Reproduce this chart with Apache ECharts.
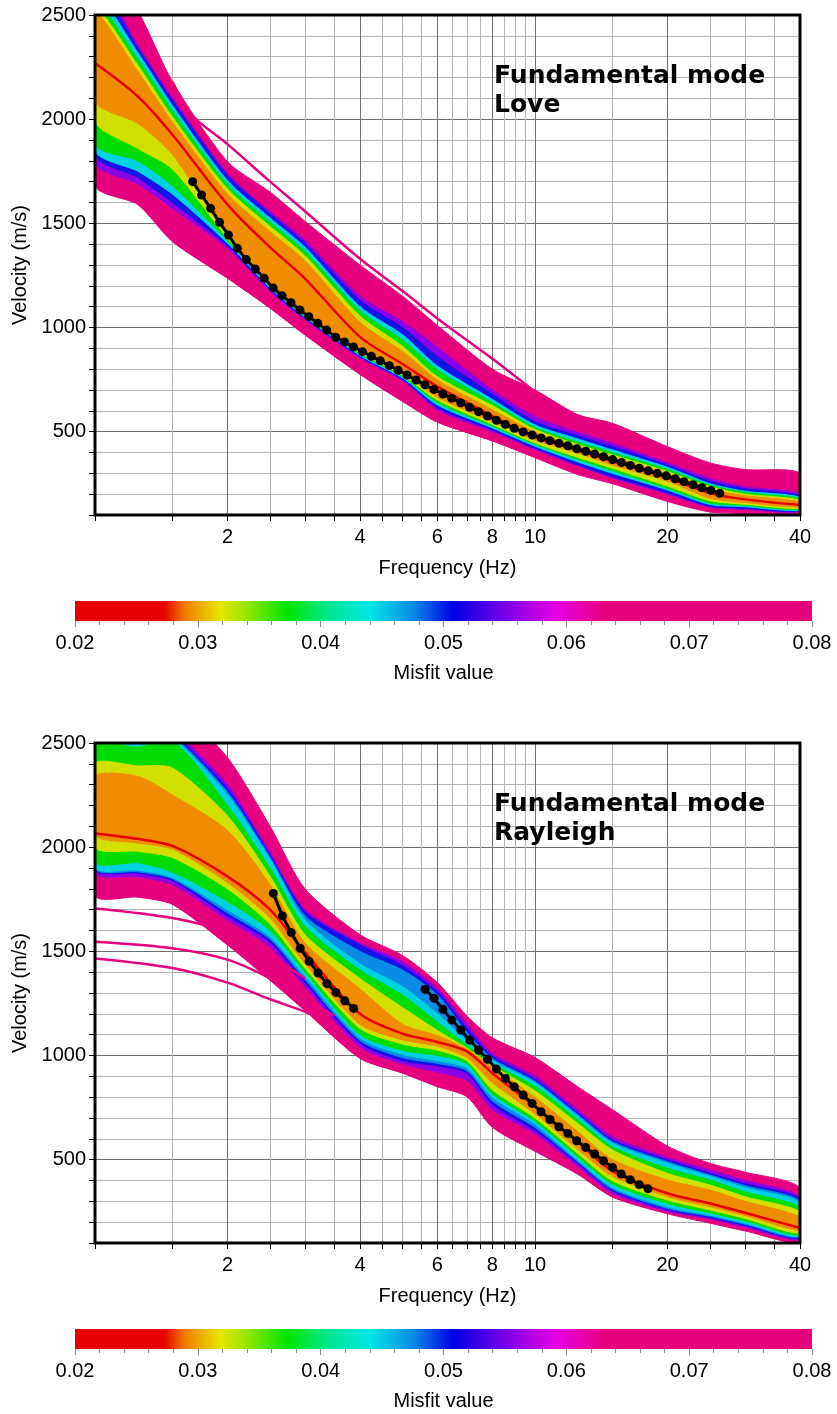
<!DOCTYPE html>
<html><head><meta charset="utf-8">
<script src="https://cdn.jsdelivr.net/npm/echarts@6/dist/echarts.min.js"></script>
<style>html,body{margin:0;padding:0;background:#fff}#c{width:837px;height:1414px}</style>
</head><body><div id="c"></div>
<script>
// ---------- axis ticks / labels ----------
const freqTicks = [1,1.5,2,2.5,3,3.5,4,4.5,5,5.5,6,6.5,7,7.5,8,8.5,9,9.5,10,15,20,25,30,35,40];
const freqLabels = [2,4,6,8,10,20,40];
const freqMajorLines = [2,4,6,8,10,20];
const velocityLabels = [500,1000,1500,2000,2500];
const misfitRange = [0.02, 0.08];

// ---------- Love (top) ensemble envelopes ----------
const loveFreq     = [1, 1.25, 1.5, 2, 2.5, 3, 4, 5, 6, 8, 10, 12.5, 15, 20, 25, 30, 40];
const lovePinkUp   = [2800, 2520, 2180, 1796, 1650, 1510, 1300, 1150, 1010, 800, 700, 582, 540, 428, 350, 318, 300];
const lovePurpleUp = [2700, 2355, 2100, 1740, 1556, 1420, 1150, 1028, 905, 700, 572, 497, 444, 350, 275, 235, 202];
const loveBlueUp   = [2650, 2345, 2090, 1730, 1545, 1405, 1130, 1000, 860, 680, 548, 481, 428, 340, 262, 226, 192];
const loveCyanUp   = [2600, 2320, 2065, 1705, 1525, 1385, 1100, 965, 815, 655, 532, 465, 412, 329, 250, 214, 185];
const loveGreenUp  = [2560, 2290, 2040, 1685, 1505, 1365, 1080, 940, 796, 640, 520, 450, 399, 319, 243, 208, 178];
const loveYellowUp = [2530, 2260, 2010, 1665, 1485, 1345, 1055, 910, 764, 625, 510, 438, 388, 308, 236, 200, 172];
const loveOrangeUp = [2510, 2230, 1985, 1640, 1460, 1320, 1025, 885, 748, 605, 498, 429, 377, 297, 225, 192, 164];
const loveRed      = [2268, 2110, 1925, 1590, 1385, 1235, 955, 825, 716, 575, 474, 411, 358, 278, 205, 175, 148];
const loveOrangeLo = [2084, 1980, 1830, 1440, 1212, 1062, 885, 780, 665, 548, 460, 398, 340, 262, 180, 160, 138];
const loveYellowLo = [1990, 1860, 1760, 1430, 1205, 1058, 878, 772, 652, 535, 446, 377, 324, 239, 168, 152, 132];
const loveGreenLo  = [1880, 1800, 1680, 1418, 1198, 1054, 872, 765, 640, 527, 440, 368, 313, 228, 158, 146, 128];
const loveCyanLo   = [1850, 1750, 1640, 1405, 1190, 1050, 866, 758, 628, 518, 430, 355, 300, 220, 150, 140, 124];
const loveBlueLo   = [1830, 1720, 1600, 1392, 1182, 1045, 860, 751, 615, 508, 420, 342, 284, 207, 142, 132, 121];
const lovePurpleLo = [1790, 1690, 1572, 1380, 1172, 1038, 853, 745, 604, 500, 414, 336, 278, 200, 136, 127, 118];
const lovePinkLo   = [1684, 1590, 1412, 1236, 1092, 964, 775, 645, 545, 455, 375, 294, 250, 165, 114, 108, 105];
const loveStrayFreq = [1.5, 1.66, 2, 2.5, 3, 4, 5, 6.2, 8, 10.8, 13];
const loveStrayVel  = [2180, 2020, 1880, 1700, 1558, 1330, 1175, 1020, 850, 638, 518];

// Love observed dispersion points
const loveObsFreq = [1.667,1.747,1.831,1.918,2.010,2.106,2.207,2.313,2.424,2.540,2.661,2.789,2.922,3.062,3.208,3.362,3.523,3.692,3.868,4.053,4.246,4.450,4.663,4.886,5.120,5.364,5.621,5.890,6.172,6.467,6.776,7.101,7.440,7.796,8.169,8.560,8.969,9.399,9.849,10.32,10.81,11.33,11.87,12.44,13.04,13.66,14.31,15.00,15.72,16.47,17.26,18.08,18.95,19.86,20.81,21.80,22.85,23.94,25.09,26.29];
const loveObsVel  = [1700,1636,1572,1505,1444,1380,1326,1281,1236,1190,1153,1119,1084,1052,1020,988,953,930,907,884,862,840,817,795,772,748,725,703,681,660,639,617,596,575,555,535,516,499,484,470,457,444,432,418,406,393,380,366,352,338,324,312,300,288,274,260,245,231,218,204];

// ---------- Rayleigh (bottom) ensemble envelopes ----------
const rayFreq     = [1, 1.25, 1.5, 2, 2.5, 3, 4, 5, 6, 7, 8, 10, 12.5, 15, 20, 25, 30, 40];
const rayPinkUp   = [2900, 2850, 2700, 2430, 2100, 1800, 1580, 1480, 1350, 1190, 1085, 990, 850, 740, 565, 482, 440, 364];
const rayPurpleUp = [2800, 2700, 2570, 2300, 1975, 1700, 1540, 1450, 1320, 1150, 1010, 900, 740, 610, 510, 450, 400, 320];
const rayBlueUp   = [2760, 2680, 2550, 2280, 1960, 1690, 1530, 1430, 1305, 1130, 995, 885, 725, 594, 498, 434, 385, 310];
const raySkyUp    = [2740, 2660, 2540, 2265, 1950, 1670, 1500, 1410, 1290, 1110, 985, 876, 716, 586, 490, 426, 375, 301];
const rayCyanUp   = [2720, 2640, 2530, 2250, 1940, 1650, 1440, 1330, 1200, 1070, 975, 868, 708, 578, 482, 418, 365, 292];
const rayGreenUp  = [2490, 2480, 2510, 2200, 1900, 1620, 1410, 1290, 1160, 1050, 962, 852, 692, 562, 458, 402, 345, 270];
const rayYellowUp = [2400, 2390, 2380, 2150, 1860, 1580, 1370, 1230, 1120, 1035, 950, 830, 674, 546, 434, 378, 322, 250];
const rayOrangeUp = [2340, 2340, 2250, 2080, 1820, 1540, 1320, 1150, 1095, 1030, 942, 800, 635, 500, 402, 354, 300, 225];
const rayRed      = [2066, 2040, 2006, 1860, 1700, 1495, 1200, 1105, 1065, 1020, 915, 755, 585, 445, 338, 290, 245, 172];
const rayOrangeLo = [2058, 2020, 1990, 1830, 1660, 1440, 1150, 1075, 1045, 990, 870, 720, 550, 420, 322, 274, 232, 160];
const rayYellowLo = [2000, 1980, 1950, 1800, 1630, 1420, 1130, 1055, 1025, 975, 835, 700, 530, 398, 306, 258, 218, 148];
const rayGreenLo  = [1930, 1925, 1880, 1740, 1600, 1400, 1100, 1025, 1000, 960, 815, 685, 514, 382, 290, 244, 206, 140];
const rayCyanLo   = [1905, 1890, 1855, 1700, 1570, 1380, 1085, 1005, 975, 940, 800, 670, 498, 366, 274, 234, 196, 134];
const raySkyLo    = [1900, 1882, 1848, 1685, 1558, 1365, 1072, 990, 962, 928, 782, 655, 490, 358, 266, 228, 190, 130];
const rayBlueLo   = [1895, 1875, 1840, 1670, 1545, 1350, 1060, 975, 950, 915, 765, 640, 483, 350, 260, 222, 184, 126];
const rayPurpleLo = [1880, 1858, 1820, 1650, 1520, 1330, 1040, 960, 920, 880, 740, 625, 468, 338, 252, 215, 176, 120];
const rayPinkLo   = [1770, 1760, 1725, 1530, 1360, 1215, 986, 915, 850, 802, 655, 540, 430, 320, 240, 195, 158, 110];
const rayStrayAFreq = [1, 1.5, 2, 2.5, 3];
const rayStrayAVel  = [1706, 1660, 1590, 1480, 1370];
const rayStrayBFreq = [1, 1.5, 2, 2.5, 3, 3.5];
const rayStrayBVel  = [1546, 1515, 1460, 1370, 1270, 1190];
const rayStrayCFreq = [1, 1.5, 2, 2.5, 3, 3.5];
const rayStrayCVel  = [1466, 1420, 1350, 1270, 1210, 1150];

// Rayleigh observed dispersion points (two branches)
const rayObs1Freq = [2.543,2.665,2.792,2.926,3.066,3.212,3.366,3.527,3.695,3.872];
const rayObs1Vel  = [1778,1670,1590,1515,1452,1396,1345,1303,1263,1226];
const rayObs2Freq = [5.623,5.892,6.173,6.468,6.778,7.101,7.441,7.796,8.169,8.559,8.968,9.397,9.846,10.32,10.81,11.33,11.87,12.43,13.03,13.65,14.30,14.99,15.70,16.45,17.24,18.06];
const rayObs2Vel  = [1318,1275,1222,1170,1122,1074,1026,982,935,890,850,810,770,730,693,658,626,591,559,527,495,463,431,404,380,360];

// ---------- colour scale (misfit -> colour) ----------
const cbStopValues = [0.02, 0.0272, 0.0290, 0.0318, 0.0336, 0.0373, 0.0405, 0.0440, 0.0475, 0.0508, 0.0557, 0.0592, 0.0630, 0.08];
const cbStopColors = ['#e60000','#e60000','#f08000','#e6e600','#a6e600','#00e600','#00e68c','#00e6e6','#0a8ce6','#0000e6','#8c00e6','#e600e6','#e6007e','#e6007e'];

// ---------- style ----------
const FONT = 'Liberation Sans, Arial, sans-serif';
const C = {pink:'#e6007e', purple:'#8c00e6', blue:'#1414e6', sky:'#0a8ce6', cyan:'#00d2e0', green:'#00dc00', yellow:'#d2e000', orange:'#f08c00', red:'#e60000'};

const zip = (a, b) => a.map((v, i) => [v, b[i]]);

function bandSeries(xi, yi, freq, up, lo, color) {
  return {
    type: 'custom', xAxisIndex: xi, yAxisIndex: yi, clip: true, silent: true,
    data: [[freq[0], up[0]]], encode: {x: 0, y: 1},
    renderItem: function (params, api) {
      const pts = [];
      for (let i = 0; i < freq.length; i++) pts.push(api.coord([freq[i], up[i]]));
      for (let i = freq.length - 1; i >= 0; i--) pts.push(api.coord([freq[i], lo[i]]));
      return {type: 'polygon', shape: {points: pts, smooth: 0.25}, style: {fill: color, stroke: color, lineWidth: 1}};
    }
  };
}
function curveSeries(xi, yi, freq, vel, color, w) {
  return {type: 'line', xAxisIndex: xi, yAxisIndex: yi, data: zip(freq, vel), smooth: 0.3, symbol: 'none',
    clip: true, silent: true, lineStyle: {color: color, width: w}};
}
function obsSeries(xi, yi, freq, vel) {
  return {type: 'line', xAxisIndex: xi, yAxisIndex: yi, data: zip(freq, vel), symbol: 'circle', symbolSize: 9,
    itemStyle: {color: '#000'}, lineStyle: {color: '#000', width: 3}, silent: true, z: 5};
}
function freqAxis(gi) {
  return {
    type: 'log', logBase: 10, gridIndex: gi, min: 1, max: 40, position: 'bottom',
    name: 'Frequency (Hz)', nameLocation: 'middle', nameGap: 43,
    nameTextStyle: {fontFamily: FONT, fontSize: 20, color: '#000'},
    axisLine: {show: false},
    axisTick: {show: true, customValues: freqTicks, length: 6, lineStyle: {color: '#000', width: 1}},
    axisLabel: {show: true, customValues: freqLabels, margin: 12, fontFamily: FONT, fontSize: 20, color: '#000', formatter: v => String(v)},
    splitLine: {show: true, lineStyle: {color: '#b4b4b4', width: 1}},
    minorTick: {show: false}, minorSplitLine: {show: false}
  };
}
function freqMajorAxis(gi) {
  return {
    type: 'log', logBase: 10, gridIndex: gi, min: 1, max: 40, position: 'bottom',
    axisLine: {show: false}, axisLabel: {show: false},
    axisTick: {show: false, customValues: freqMajorLines},
    splitLine: {show: true, lineStyle: {color: '#707070', width: 1}}
  };
}
function velAxis(gi) {
  return {
    type: 'value', gridIndex: gi, min: 100, max: 2500, interval: 100,
    name: 'Velocity (m/s)', nameLocation: 'middle', nameGap: 62, nameRotate: 90,
    nameTextStyle: {fontFamily: FONT, fontSize: 20, color: '#000'},
    axisLine: {show: false},
    axisTick: {show: true, length: 6, lineStyle: {color: '#000'}},
    axisLabel: {margin: 9, fontFamily: FONT, fontSize: 20, color: '#000',
      formatter: v => velocityLabels.indexOf(v) >= 0 ? String(v) : ''},
    splitLine: {show: true, lineStyle: {color: ['#b4b4b4','#b4b4b4','#b4b4b4','#b4b4b4','#707070'], width: 1}}
  };
}
function misfitAxis(gi) {
  return {
    type: 'value', gridIndex: gi, min: misfitRange[0], max: misfitRange[1], interval: 0.01, position: 'bottom',
    name: 'Misfit value', nameLocation: 'middle', nameGap: 42,
    nameTextStyle: {fontFamily: FONT, fontSize: 20, color: '#000'},
    axisLine: {show: false},
    axisTick: {show: true, length: 6, lineStyle: {color: '#888'}},
    minorTick: {show: true, splitNumber: 5, length: 4, lineStyle: {color: '#888'}},
    axisLabel: {margin: 12, fontFamily: FONT, fontSize: 20, color: '#000', formatter: v => v.toFixed(2)},
    splitLine: {show: false}
  };
}
function colorbarSeries(xi, yi) {
  const stops = cbStopValues.map((v, i) => ({offset: (v - misfitRange[0]) / (misfitRange[1] - misfitRange[0]), color: cbStopColors[i]}));
  return {
    type: 'custom', xAxisIndex: xi, yAxisIndex: yi, silent: true, data: [[misfitRange[0], 0]], encode: {x: 0, y: 1},
    renderItem: function (params, api) {
      const a = api.coord([misfitRange[0], 1]);
      const b = api.coord([misfitRange[1], 0]);
      return {type: 'rect', shape: {x: a[0], y: a[1], width: b[0] - a[0], height: b[1] - a[1]},
        style: {fill: new echarts.graphic.LinearGradient(0, 0, 1, 0, stops)}};
    }
  };
}
function panelSeries(xi, yi, freq, b, strays) {
  const s = [bandSeries(xi, yi, freq, b.pinkUp, b.pinkLo, C.pink)];
  strays.forEach(st => s.push(curveSeries(xi, yi, st[0], st[1], C.pink, 2.5)));
  s.push(bandSeries(xi, yi, freq, b.purpleUp, b.purpleLo, C.purple));
  s.push(bandSeries(xi, yi, freq, b.blueUp, b.blueLo, C.blue));
  if (b.skyUp) s.push(bandSeries(xi, yi, freq, b.skyUp, b.skyLo, C.sky));
  s.push(bandSeries(xi, yi, freq, b.cyanUp, b.cyanLo, C.cyan));
  s.push(bandSeries(xi, yi, freq, b.greenUp, b.greenLo, C.green));
  s.push(bandSeries(xi, yi, freq, b.yellowUp, b.yellowLo, C.yellow));
  s.push(bandSeries(xi, yi, freq, b.orangeUp, b.orangeLo, C.orange));
  s.push(curveSeries(xi, yi, freq, b.red, C.red, 2.5));
  return s;
}

const loveB = {pinkUp: lovePinkUp, pinkLo: lovePinkLo, purpleUp: lovePurpleUp, purpleLo: lovePurpleLo,
  blueUp: loveBlueUp, blueLo: loveBlueLo, cyanUp: loveCyanUp, cyanLo: loveCyanLo, greenUp: loveGreenUp, greenLo: loveGreenLo,
  yellowUp: loveYellowUp, yellowLo: loveYellowLo, orangeUp: loveOrangeUp, orangeLo: loveOrangeLo, red: loveRed};
const rayB = {pinkUp: rayPinkUp, pinkLo: rayPinkLo, purpleUp: rayPurpleUp, purpleLo: rayPurpleLo,
  blueUp: rayBlueUp, blueLo: rayBlueLo, skyUp: raySkyUp, skyLo: raySkyLo, cyanUp: rayCyanUp, cyanLo: rayCyanLo,
  greenUp: rayGreenUp, greenLo: rayGreenLo, yellowUp: rayYellowUp, yellowLo: rayYellowLo,
  orangeUp: rayOrangeUp, orangeLo: rayOrangeLo, red: rayRed};

const titleStyle = {fontFamily: 'DejaVu Sans, sans-serif', fontWeight: 'bold', fontSize: 25, lineHeight: 29, color: '#000'};

const series = [].concat(
  panelSeries(0, 0, loveFreq, loveB, [[loveStrayFreq, loveStrayVel]]),
  [obsSeries(0, 0, loveObsFreq, loveObsVel)],
  panelSeries(2, 1, rayFreq, rayB, [[rayStrayAFreq, rayStrayAVel], [rayStrayBFreq, rayStrayBVel], [rayStrayCFreq, rayStrayCVel]]),
  [obsSeries(2, 1, rayObs1Freq, rayObs1Vel), obsSeries(2, 1, rayObs2Freq, rayObs2Vel)],
  [colorbarSeries(4, 2), colorbarSeries(5, 3)]
);

const chart = echarts.init(document.getElementById('c'), null, {renderer: 'canvas'});
chart.setOption({
  animation: false,
  backgroundColor: '#fff',
  title: [
    {text: 'Fundamental mode\nLove', left: 494, top: 62, padding: 0, textStyle: titleStyle},
    {text: 'Fundamental mode\nRayleigh', left: 494, top: 790, padding: 0, textStyle: titleStyle}
  ],
  grid: [
    {left: 95, top: 15, width: 705, height: 500, show: true, borderColor: '#000', borderWidth: 3, backgroundColor: 'transparent', z: 10},
    {left: 95, top: 743, width: 705, height: 500, show: true, borderColor: '#000', borderWidth: 3, backgroundColor: 'transparent', z: 10},
    {left: 75, top: 601, width: 737, height: 20},
    {left: 75, top: 1329, width: 737, height: 20}
  ],
  xAxis: [freqAxis(0), freqMajorAxis(0), freqAxis(1), freqMajorAxis(1), misfitAxis(2), misfitAxis(3)],
  yAxis: [velAxis(0), velAxis(1),
    {type: 'value', gridIndex: 2, min: 0, max: 1, show: false},
    {type: 'value', gridIndex: 3, min: 0, max: 1, show: false}],
  series: series
});
</script></body></html>
